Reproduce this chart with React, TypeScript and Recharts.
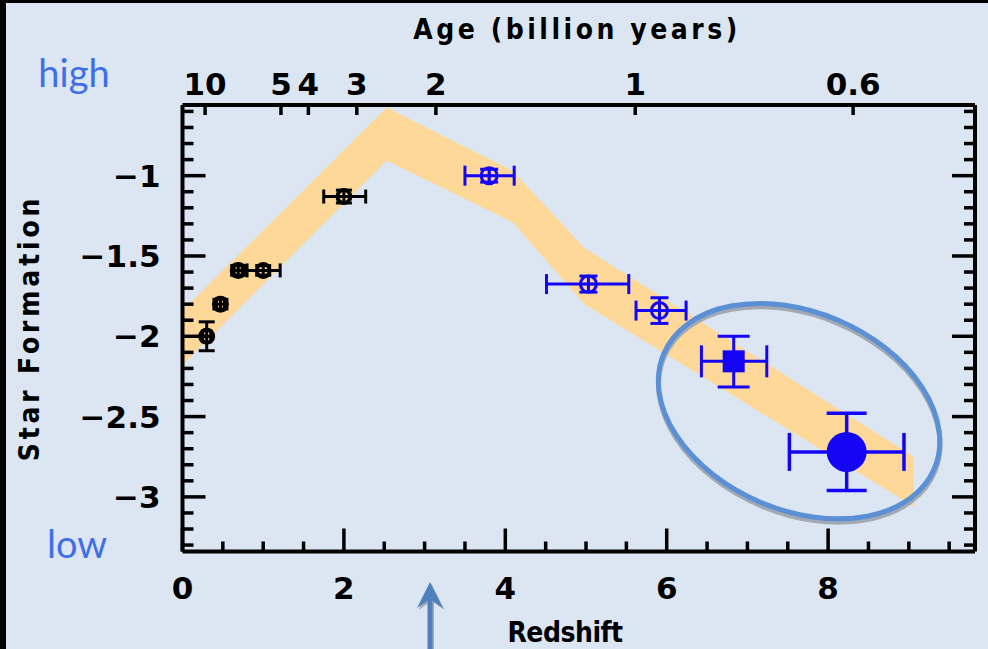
import React from 'react';
import { ComposedChart, Area, Scatter, XAxis, YAxis, ErrorBar, ReferenceDot } from 'recharts';

// Orange band (redshift, lower edge, upper edge)
const bandZ = [0, 2.53, 4.09, 4.98, 9.06];
const bandLow = [-2.18, -0.906, -1.29, -1.8, -3.06];
const bandHigh = [-1.84, -0.575, -0.97, -1.45, -2.75];

// Black open points (low redshift)
const blackZ = [0.3, 0.47, 0.69, 1.0, 2.0];
const blackY = [-2.0, -1.8, -1.59, -1.59, -1.13];
const blackXLo = [0.05, 0.05, 0.05, 0.2, 0.25];
const blackXHi = [0.05, 0.05, 0.05, 0.21, 0.27];
const blackYErr = [0.09, 0.03, 0.03, 0.03, 0.04];

// Blue open points
const blueZ = [3.8, 5.03, 5.91];
const blueY = [-1.0, -1.675, -1.84];
const blueXLo = [0.3, 0.52, 0.29];
const blueXHi = [0.31, 0.5, 0.33];
const blueYErr = [0.04, 0.05, 0.08];

// Filled square
const sqZ = [6.83];
const sqY = [-2.156];
const sqXLo = [0.4];
const sqXHi = [0.41];
const sqYLo = [0.16];
const sqYHi = [0.156];

// Filled big circle
const bigZ = [8.23];
const bigY = [-2.72];
const bigXLo = [0.71];
const bigXHi = [0.71];
const bigYLo = [0.24];
const bigYHi = [0.24];

// Axes
const xTicks = [0, 0.5, 1, 1.5, 2, 2.5, 3, 3.5, 4, 4.5, 5, 5.5, 6, 6.5, 7, 7.5, 8, 8.5, 9, 9.5];
const xLabelTicks = [0, 2, 4, 6, 8];
const yTicks = [-3.3, -3.2, -3.1, -3.0, -2.9, -2.8, -2.7, -2.6, -2.5, -2.4, -2.3, -2.2, -2.1, -2.0, -1.9, -1.8, -1.7, -1.6, -1.5, -1.4, -1.3, -1.2, -1.1, -1.0, -0.9, -0.8, -0.7, -0.6];
const yLabelTicks = [-3, -2.5, -2, -1.5, -1];
const ageZ = [0.28, 1.22, 1.56, 2.16, 3.14, 5.61, 8.31];
const ageLabels = ['10', '5', '4', '3', '2', '1', '0.6'];

const X_DOMAIN: [number, number] = [0, 9.82];
const Y_DOMAIN: [number, number] = [-3.34, -0.56];

const BLUE = '#1405f5';
const TICK_FONT = "'DejaVu Sans', sans-serif";
const TITLE_FONT = "'DejaVu Sans Condensed', 'Liberation Sans', sans-serif";

const bandData = bandZ.map((z, i) => ({ z, band: [bandLow[i], bandHigh[i]] }));
const blackData = blackZ.map((z, i) => ({ z, y: blackY[i], ex: [blackXLo[i], blackXHi[i]], ey: blackYErr[i] }));
const blueData = blueZ.map((z, i) => ({ z, y: blueY[i], ex: [blueXLo[i], blueXHi[i]], ey: blueYErr[i] }));
const sqData = sqZ.map((z, i) => ({ z, y: sqY[i], ex: [sqXLo[i], sqXHi[i]], ey: [sqYLo[i], sqYHi[i]] }));
const bigData = bigZ.map((z, i) => ({ z, y: bigY[i], ex: [bigXLo[i], bigXHi[i]], ey: [bigYLo[i], bigYHi[i]] }));

const isIn = (arr: number[], v: number) => arr.some((a) => Math.abs(a - v) < 1e-6);

const BottomTick = (props: any) => {
  const { x, y, payload } = props;
  const v = payload.value;
  const major = isIn(xLabelTicks, v);
  return (
    <g>
      <line x1={x} y1={y} x2={x} y2={y - (major ? 23 : 10)} stroke="#000" strokeWidth={3.5} />
      {major && (
        <text x={x} y={y + 47} textAnchor="middle" fontFamily={TICK_FONT} fontWeight="bold" fontSize={31} fill="#000">
          {String(v)}
        </text>
      )}
    </g>
  );
};

const TopTick = (props: any) => {
  const { x, y, payload } = props;
  const idx = ageZ.findIndex((a) => Math.abs(a - payload.value) < 1e-6);
  return (
    <g>
      <line x1={x} y1={y} x2={x} y2={y + 10} stroke="#000" strokeWidth={3.5} />
      <text x={x} y={y - 10} textAnchor="middle" fontFamily={TICK_FONT} fontWeight="bold" fontSize={31} fill="#000">
        {idx >= 0 ? ageLabels[idx] : ''}
      </text>
    </g>
  );
};

const LeftTick = (props: any) => {
  const { x, y, payload } = props;
  const v = payload.value;
  const major = isIn(yLabelTicks, v);
  return (
    <g>
      <line x1={x} y1={y} x2={x + (major ? 23 : 11)} y2={y} stroke="#000" strokeWidth={3.5} />
      {major && (
        <text x={x - 22} y={y + 11} textAnchor="end" fontFamily={TICK_FONT} fontWeight="bold" fontSize={31} fill="#000">
          {'\u2212' + String(Math.abs(v))}
        </text>
      )}
    </g>
  );
};

const RightTick = (props: any) => {
  const { x, y, payload } = props;
  const major = isIn(yLabelTicks, payload.value);
  return <line x1={x} y1={y} x2={x - (major ? 23 : 11)} y2={y} stroke="#000" strokeWidth={3.5} />;
};

const BlackMarker = (props: any) => {
  const { cx, cy } = props;
  if (cx == null || cy == null) return null;
  return (
    <g>
      <circle cx={cx} cy={cy} r={6.5} fill="none" stroke="#000" strokeWidth={4} />
      <line x1={cx - 7} y1={cy} x2={cx + 7} y2={cy} stroke="#000" strokeWidth={2} />
      <line x1={cx} y1={cy - 7} x2={cx} y2={cy + 7} stroke="#000" strokeWidth={2} />
    </g>
  );
};

const BlueOpenMarker = (props: any) => {
  const { cx, cy } = props;
  if (cx == null || cy == null) return null;
  return (
    <g>
      <circle cx={cx} cy={cy} r={8} fill="none" stroke={BLUE} strokeWidth={3} />
      <line x1={cx - 8} y1={cy} x2={cx + 8} y2={cy} stroke={BLUE} strokeWidth={2.5} />
      <line x1={cx} y1={cy - 8} x2={cx} y2={cy + 8} stroke={BLUE} strokeWidth={2.5} />
    </g>
  );
};

const SquareMarker = (props: any) => {
  const { cx, cy } = props;
  if (cx == null || cy == null) return null;
  return <rect x={cx - 11} y={cy - 11} width={22} height={22} fill={BLUE} />;
};

const BigMarker = (props: any) => {
  const { cx, cy } = props;
  if (cx == null || cy == null) return null;
  return <circle cx={cx} cy={cy} r={20} fill={BLUE} />;
};

const EllipseShape = (props: any) => {
  const { cx, cy } = props;
  if (cx == null || cy == null) return null;
  return (
    <g transform={`translate(${cx},${cy}) rotate(23)`}>
      <ellipse cx={1.5} cy={3} rx={147} ry={99} fill="none" stroke="#a2a9b2" strokeWidth={5} />
      <ellipse cx={0} cy={0} rx={147} ry={99} fill="none" stroke="#5b8fd6" strokeWidth={5} />
    </g>
  );
};

export default function App() {
  return (
    <div style={{ position: 'absolute', left: 0, top: 0, width: 988, height: 649, background: '#dce6f2', overflow: 'hidden' }}>
      <ComposedChart
        width={988}
        height={649}
        data={bandData}
        margin={{ top: 104, right: 12, bottom: 96.5, left: 181.5 }}
      >
        <XAxis
          dataKey="z"
          type="number"
          domain={X_DOMAIN}
          allowDataOverflow
          ticks={xTicks}
          interval={0}
          tick={BottomTick}
          tickLine={false}
          tickSize={0}
          tickMargin={0}
          height={1}
          axisLine={{ stroke: '#000', strokeWidth: 4 }}
        />
        <XAxis
          xAxisId="t"
          orientation="top"
          dataKey="z"
          type="number"
          domain={X_DOMAIN}
          allowDataOverflow
          ticks={ageZ}
          interval={0}
          tick={TopTick}
          tickLine={false}
          tickSize={0}
          tickMargin={0}
          height={1}
          axisLine={{ stroke: '#000', strokeWidth: 4 }}
        />
        <YAxis
          type="number"
          domain={Y_DOMAIN}
          allowDataOverflow
          ticks={yTicks}
          interval={0}
          tick={LeftTick}
          tickLine={false}
          tickSize={0}
          tickMargin={0}
          width={1}
          axisLine={{ stroke: '#000', strokeWidth: 4 }}
        />
        <YAxis
          yAxisId="r"
          orientation="right"
          type="number"
          domain={Y_DOMAIN}
          allowDataOverflow
          ticks={yTicks}
          interval={0}
          tick={RightTick}
          tickLine={false}
          tickSize={0}
          tickMargin={0}
          width={1}
          axisLine={{ stroke: '#000', strokeWidth: 4 }}
        />
        <Area
          type="linear"
          dataKey="band"
          stroke="none"
          fill="#fdd899"
          fillOpacity={1}
          dot={false}
          activeDot={false}
          isAnimationActive={false}
        />
        <ReferenceDot x={7.64} y={-2.466} r={1} ifOverflow="visible" shape={EllipseShape} />
        <Scatter data={blackData} dataKey="y" shape={BlackMarker} isAnimationActive={false}>
          <ErrorBar dataKey="ex" direction="x" width={7} stroke="#000" strokeWidth={3} />
          <ErrorBar dataKey="ey" direction="y" width={8} stroke="#000" strokeWidth={3} />
        </Scatter>
        <Scatter data={blueData} dataKey="y" shape={BlueOpenMarker} isAnimationActive={false}>
          <ErrorBar dataKey="ex" direction="x" width={10} stroke={BLUE} strokeWidth={3} />
          <ErrorBar dataKey="ey" direction="y" width={9} stroke={BLUE} strokeWidth={3} />
        </Scatter>
        <Scatter data={sqData} dataKey="y" shape={SquareMarker} isAnimationActive={false}>
          <ErrorBar dataKey="ex" direction="x" width={16} stroke={BLUE} strokeWidth={3} />
          <ErrorBar dataKey="ey" direction="y" width={16} stroke={BLUE} strokeWidth={3} />
        </Scatter>
        <Scatter data={bigData} dataKey="y" shape={BigMarker} isAnimationActive={false}>
          <ErrorBar dataKey="ex" direction="x" width={19} stroke={BLUE} strokeWidth={3.5} />
          <ErrorBar dataKey="ey" direction="y" width={20} stroke={BLUE} strokeWidth={3.5} />
        </Scatter>
      </ComposedChart>
      <svg width={988} height={649} style={{ position: 'absolute', left: 0, top: 0, pointerEvents: 'none' }}>
        <rect x={0} y={0} width={6} height={649} fill="#000" />
        <rect x={0} y={0} width={988} height={3} fill="#000" />
        <text x={577} y={39} textAnchor="middle" fontFamily={TITLE_FONT} fontWeight="bold" fontSize={28} letterSpacing={3.5} fill="#000">
          Age (billion years)
        </text>
        <text x={565} y={642} textAnchor="middle" fontFamily={TITLE_FONT} fontWeight="bold" fontSize={28} letterSpacing={-0.5} fill="#000">
          Redshift
        </text>
        <text x={39} y={328} transform="rotate(-90 39 328)" textAnchor="middle" fontFamily={TITLE_FONT} fontWeight="bold" fontSize={28} letterSpacing={3.8} fill="#000">
          Star Formation
        </text>
        <text x={74} y={87} textAnchor="middle" fontFamily="Lato, 'Open Sans', sans-serif" fontSize={38} fill="#3f6fe8">
          high
        </text>
        <text x={77} y={558} textAnchor="middle" fontFamily="Lato, 'Open Sans', sans-serif" fontSize={38} fill="#3f6fe8">
          low
        </text>
        <g transform="translate(1.5,2)" fill="#a2a9b2">
          <rect x={427.5} y={600} width={5} height={49} />
          <polygon points="430,582 443,608 430,599 417,608" />
        </g>
        <g fill="#4f81bd">
          <rect x={427.5} y={598} width={5} height={51} />
          <polygon points="430,582 443,608 430,599 417,608" />
        </g>
      </svg>
    </div>
  );
}
